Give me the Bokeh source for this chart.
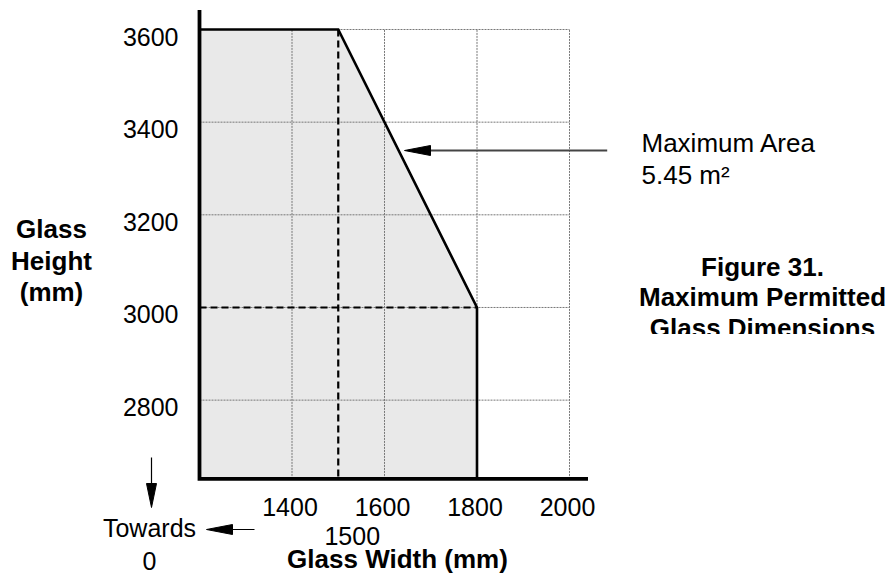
from bokeh.plotting import figure
from bokeh.models import Range1d
from bokeh.core.properties import value
from bokeh.embed import file_html
from bokeh.resources import INLINE

# ---- data ----
x_ticks = [1400, 1600, 1800, 2000]
y_ticks = [2800, 3000, 3200, 3400, 3600]
x_min, x_axis_end = 1200, 2040
y_min, y_axis_top = 2630, 3642
grid_x_max, grid_y_max = 2000, 3600
# permitted envelope (width mm, height mm)
env_w = [1200, 1500, 1800, 1800]
env_h = [3600, 3600, 3000, 2630]
limit_w = 1500   # width at maximum height
limit_h = 3000   # height at maximum width
area_label = ["Maximum Area", "5.45 m\u00b2"]

# ---- canvas geometry ----
W, H = 893, 577
PX_PER_MM_X, PX_PER_MM_Y = 0.4625, 0.4633
X_START = x_min - 199 / PX_PER_MM_X
X_END = X_START + W / PX_PER_MM_X
Y_END = grid_y_max + 29 / PX_PER_MM_Y
Y_START = Y_END - H / PX_PER_MM_Y
MX = 1 / PX_PER_MM_X
MY = 1 / PX_PER_MM_Y
TXT = 10  # text baseline correction, px

def dx(px):
    return X_START + px * MX

def dy(py):
    return Y_END - py * MY

def ty(py):
    return dy(py - TXT)

p = figure(width=W, height=H, x_range=Range1d(X_START, X_END), y_range=Range1d(Y_START, Y_END),
           x_axis_type=None, y_axis_type=None, toolbar_location=None, output_backend="svg",
           min_border=0, outline_line_color=None)
p.background_fill_color = "white"
p.border_fill_color = "white"

FONT = value("Liberation Sans")

# filled envelope
p.patch([x_min] + env_w, [y_min] + env_h, fill_color="#e9e9e9", line_color=None)

# grid (dotted)
p.segment(x0=x_ticks, y0=[y_min] * len(x_ticks), x1=x_ticks, y1=[grid_y_max] * len(x_ticks),
          line_color="#777777", line_width=1, line_dash="2 1")
p.segment(x0=[x_min] * len(y_ticks), y0=y_ticks, x1=[grid_x_max] * len(y_ticks), y1=y_ticks,
          line_color="#777777", line_width=1, line_dash="2 1")

# dashed limit lines
p.line([limit_w, limit_w], [env_h[0], y_min], line_color="black", line_width=2.2, line_dash="7 4")
p.line([x_min, env_w[2]], [limit_h, limit_h], line_color="black", line_width=2.2, line_dash="7 4")

# envelope outline
p.line([x_min] + env_w, [env_h[0]] + env_h, line_color="black", line_width=2.6, line_join="miter")

# axes
p.line([x_min, x_min, x_axis_end], [y_axis_top, y_min, y_min], line_color="black", line_width=3.8,
       line_join="miter")

# ---- arrows ----
def h_arrow(x_tail, x_tip, y, hl, hw, color, lw):
    dirn = 1 if x_tip > x_tail else -1
    base = x_tip - dirn * hl
    p.line([dx(x_tail), dx(base)], [dy(y), dy(y)], line_color=color, line_width=lw)
    p.patch([dx(x_tip), dx(base), dx(base)], [dy(y), dy(y - hw), dy(y + hw)],
            fill_color="black", line_color="black", line_width=1)

def v_arrow(x, y_tail, y_tip, hl, hw, color, lw):
    base = y_tip - hl
    p.line([dx(x), dx(x)], [dy(y_tail), dy(base)], line_color=color, line_width=lw)
    p.patch([dx(x), dx(x - hw), dx(x + hw)], [dy(y_tip), dy(base), dy(base)],
            fill_color="black", line_color="black", line_width=1)

h_arrow(606.7, 404, 150, 26, 5, "#444444", 2)
h_arrow(254, 206, 529, 26, 5, "black", 1.2)
v_arrow(151, 457, 507, 24, 5, "black", 1.2)

# ---- tick labels ----
p.text(x=[dx(178)] * len(y_ticks), y=[v - (17 - TXT) * MY for v in y_ticks],
       text=[str(v) for v in y_ticks],
       text_font=FONT, text_font_size="25px", text_align="right", text_baseline="alphabetic",
       text_color="black")
p.text(x=[v - 2 * MX for v in x_ticks], y=[ty(516)] * len(x_ticks), text=[str(v) for v in x_ticks],
       text_font=FONT, text_font_size="25px", text_align="center", text_baseline="alphabetic",
       text_color="black")
p.text(x=[limit_w + 14 * MX], y=[ty(545)], text=[str(limit_w)],
       text_font=FONT, text_font_size="25px", text_align="center", text_baseline="alphabetic",
       text_color="black")

# ---- axis titles & notes ----
p.text(x=[dx(397)], y=[ty(568)], text=["Glass Width (mm)"], text_font=FONT, text_font_size="26px",
       text_font_style="bold", text_align="center", text_baseline="alphabetic", text_color="black")
p.text(x=[dx(51)] * 3, y=[ty(238), ty(270), ty(301)], text=["Glass", "Height", "(mm)"],
       text_font=FONT, text_font_size="26px", text_font_style="bold", text_align="center",
       text_baseline="alphabetic", text_color="black")
p.text(x=[dx(149)] * 2, y=[ty(537.5), ty(570)], text=["Towards", "0"], text_font=FONT,
       text_font_size="25px", text_align="center", text_baseline="alphabetic", text_color="black")
p.text(x=[dx(641)] * 2, y=[ty(152.7), ty(184)], text=area_label, text_font=FONT,
       text_font_size="26px", text_align="left", text_baseline="alphabetic", text_color="black")
p.text(x=[dx(762)] * 3, y=[ty(276.7), ty(306.7), ty(337.5)],
       text=["Figure 31.", "Maximum Permitted", "Glass Dimensions"], text_font=FONT,
       text_font_size="26px", text_font_style="bold", text_align="center", text_baseline="alphabetic",
       text_color="black")
# clip of caption bottom as in source
p.quad(left=[dx(620)], right=[dx(893)], top=[dy(333.5)], bottom=[dy(352)], fill_color="white",
       line_color=None)

open("out.html", "w").write(file_html(p, INLINE))
